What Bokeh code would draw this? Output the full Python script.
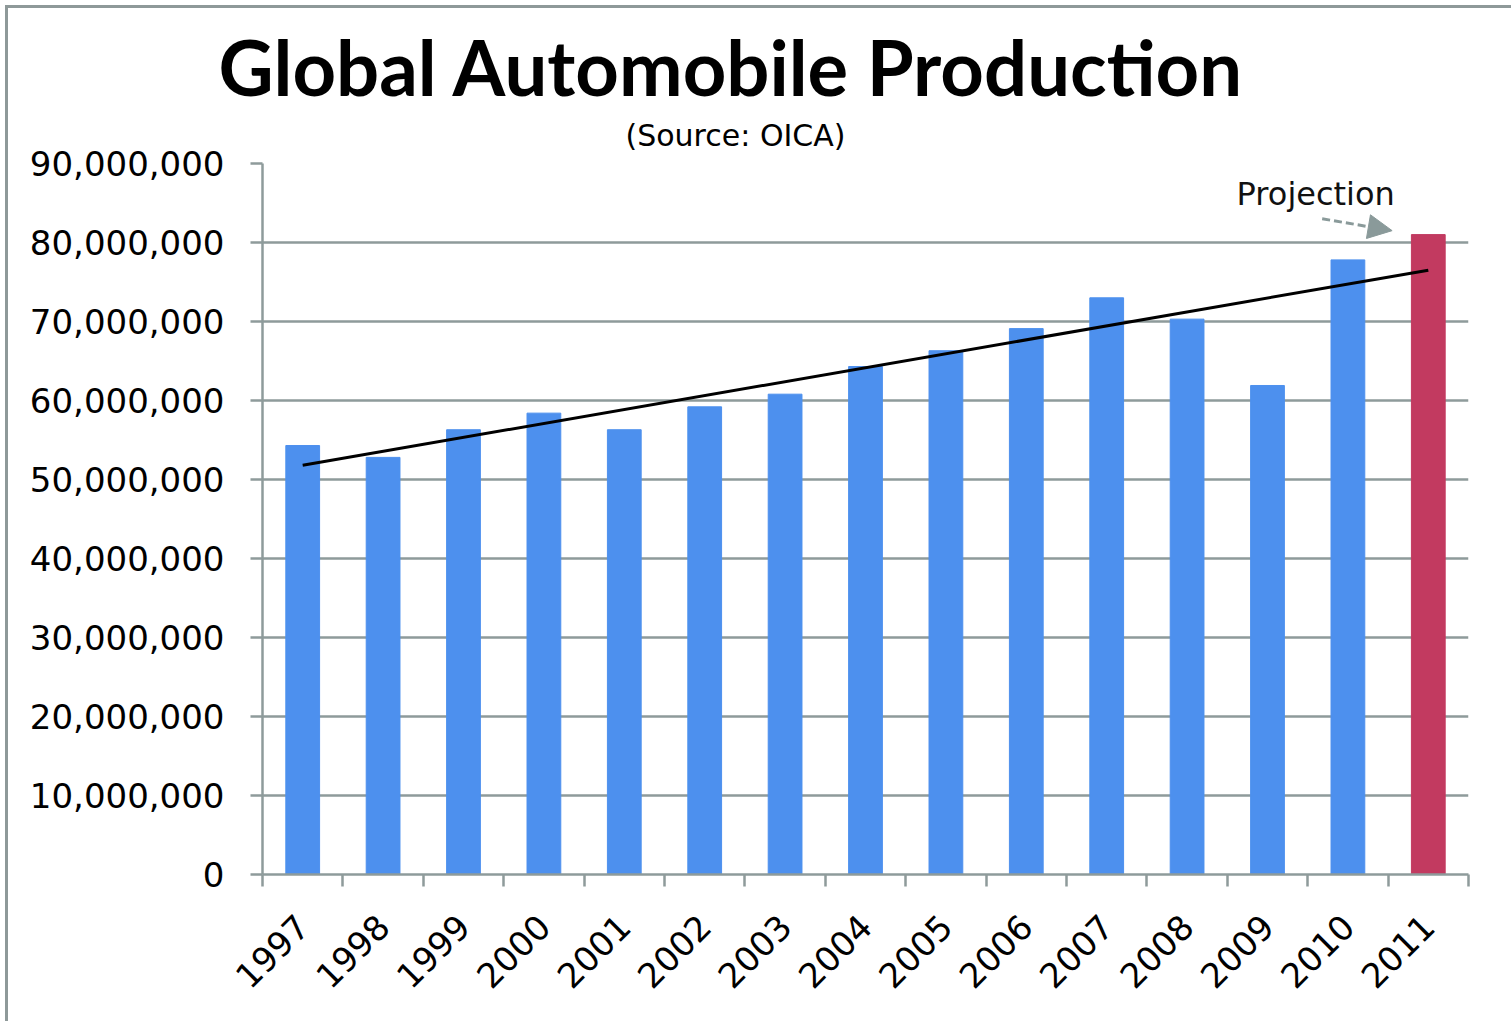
import math
from bokeh.plotting import figure
from bokeh.models import (FixedTicker, NumeralTickFormatter, Title, Label, Arrow,
                          NormalHead, ColumnDataSource, Range1d)
from bokeh.embed import file_html
from bokeh.resources import INLINE

# ---- data ----
years = ["1997", "1998", "1999", "2000", "2001", "2002", "2003", "2004",
         "2005", "2006", "2007", "2008", "2009", "2010", "2011"]
production = [54.3e6, 52.8e6, 56.3e6, 58.4e6, 56.3e6, 59.2e6, 60.8e6, 64.3e6,
              66.3e6, 69.1e6, 73.0e6, 70.3e6, 61.9e6, 77.8e6, 81.0e6]
is_projection = [False] * 14 + [True]
trend_years = ["1997", "2011"]
trend_values = [51.8e6, 76.5e6]
y_ticks = [0, 10e6, 20e6, 30e6, 40e6, 50e6, 60e6, 70e6, 80e6, 90e6]

BLUE = "#4D90EE"
RED = "#C23A60"
GRID = "#8E9B9B"
FONT = "DejaVu Sans"

centers = [i + 0.5 for i in range(len(years))]
bounds = list(range(len(years) + 1))
src = ColumnDataSource(dict(
    x=centers, top=production,
    color=[RED if p else BLUE for p in is_projection],
))

p = figure(width=1506, height=1016, output_backend="svg", toolbar_location=None,
           x_range=Range1d(0, len(years)), y_range=Range1d(0, 90e6),
           min_border_left=254, min_border_right=46, min_border_top=155,
           min_border_bottom=150)
p.styles = {"border-left": "3px solid #8E9999", "border-top": "3px solid #8E9999",
            "margin-left": "5px", "margin-top": "5px"}
p.outline_line_color = None
p.background_fill_color = "white"
p.border_fill_color = "white"

p.vbar(x="x", top="top", width=0.42, color="color", source=src)

tx = [centers[years.index(y)] for y in trend_years]
p.line(tx, trend_values, line_color="black", line_width=3)

# axes
xa = p.xaxis[0]
xa.ticker = FixedTicker(ticks=centers, minor_ticks=bounds)
xa.major_label_overrides = {c: y for c, y in zip(centers, years)}
xa.major_tick_out = 0
xa.major_tick_in = 0
xa.minor_tick_out = 12
xa.minor_tick_in = 0
xa.minor_tick_line_color = GRID
xa.minor_tick_line_width = 2.5
xa.axis_line_color = GRID
xa.axis_line_width = 2.5
xa.major_label_orientation = math.pi / 4
xa.major_label_text_font = FONT
xa.major_label_text_font_size = "34px"
xa.major_label_text_color = "black"
xa.major_label_standoff = 34

ya = p.yaxis[0]
ya.ticker = FixedTicker(ticks=y_ticks)
ya.formatter = NumeralTickFormatter(format="0,0")
ya.major_tick_out = 12
ya.major_tick_in = 0
ya.minor_tick_out = 0
ya.minor_tick_in = 0
ya.major_tick_line_color = GRID
ya.major_tick_line_width = 2.5
ya.axis_line_color = GRID
ya.axis_line_width = 2.5
ya.major_label_text_font = FONT
ya.major_label_text_font_size = "34px"
ya.major_label_text_color = "black"
ya.major_label_standoff = 26

p.xgrid.visible = False
p.ygrid.ticker = FixedTicker(ticks=y_ticks)
p.ygrid.grid_line_color = GRID
p.ygrid.grid_line_width = 2.5

# titles
p.add_layout(Title(text="(Source: OICA)", align="left", offset=363,
                   text_font=FONT, text_font_size="30px", text_font_style="normal",
                   text_color="black", standoff=21), "above")
p.add_layout(Title(text="Global Automobile Production", align="left", offset=-44,
                   text_font="Lato", text_font_size="76px", text_font_style="bold",
                   text_color="black", standoff=-12), "above")

# projection annotation
p.add_layout(Label(x=13.1, y=86.2e6, text="Projection", text_font=FONT,
                   text_font_size="32px", text_align="center", text_baseline="middle",
                   text_color="#111111"))
p.add_layout(Arrow(x_start=13.18, y_start=83.0e6, x_end=14.05, y_end=81.5e6,
                   line_color="#8A9A9A", line_width=3, line_dash="8 4",
                   end=NormalHead(size=24, fill_color="#8A9A9A", line_color="#8A9A9A")))

open("out.html", "w").write(file_html(p, INLINE))
